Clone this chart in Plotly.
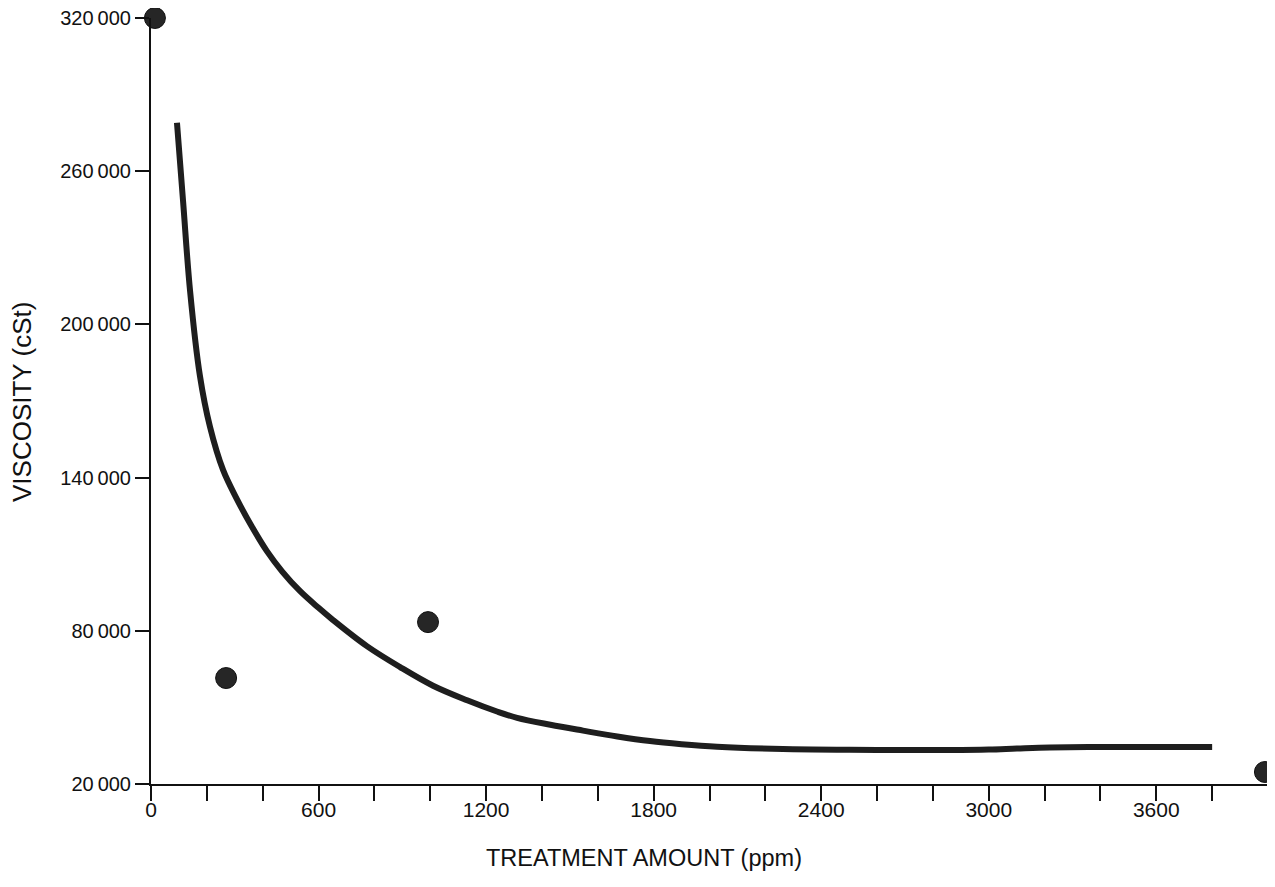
import plotly.graph_objects as go

# Measured data points (treatment ppm, viscosity cSt)
point_ppm = [14, 269, 992, 3989]
point_visc = [320000, 61500, 83400, 24700]

# Fitted curve
curve_ppm = [93, 115, 140, 175, 211, 258, 308, 360, 415, 470, 534, 600, 652,
             773, 892, 1010, 1132, 1239, 1311, 1430, 1547, 1670, 1787, 1900,
             2027, 2263, 2500, 2671, 2861, 3000, 3101, 3219, 3400, 3600, 3800]
curve_visc = [279000, 248000, 213000, 180000, 160000, 143000, 131500, 121000,
              111200, 103200, 95500, 89000, 84200, 74000, 65800, 58500, 52800,
              48400, 45900, 43200, 40900, 38600, 36800, 35600, 34600, 33700,
              33400, 33300, 33300, 33500, 33900, 34300, 34500, 34500, 34500]

x_tick_vals = list(range(0, 4001, 200))
x_tick_text = [str(v) if (v % 600 == 0 and v <= 3600) else "" for v in x_tick_vals]
y_tick_vals = [20000, 80000, 140000, 200000, 260000, 320000]
y_tick_text = ["20\u2009000", "80\u2009000", "140\u2009000", "200\u2009000",
               "260\u2009000", "320\u2009000"]

fig = go.Figure()
fig.add_trace(go.Scatter(
    x=curve_ppm, y=curve_visc, mode="lines",
    line=dict(color="#1e1e1e", width=6, shape="spline", smoothing=1.0),
    cliponaxis=False, showlegend=False, hoverinfo="skip"))
fig.add_trace(go.Scatter(
    x=point_ppm, y=point_visc, mode="markers",
    marker=dict(size=21, color="#262626", line=dict(color="#111111", width=1)),
    cliponaxis=False, showlegend=False))

font_family = "Liberation Sans, Arial, Helvetica, sans-serif"
fig.update_layout(
    width=1275, height=887,
    margin=dict(l=143, r=15, t=10, b=111),
    plot_bgcolor="white", paper_bgcolor="white",
    font=dict(family=font_family, color="#111111", size=20),
    xaxis=dict(
        range=[0, 4000], tickvals=x_tick_vals, ticktext=x_tick_text,
        ticks="outside", ticklen=15, tickwidth=2, tickcolor="#111111",
        showline=True, linecolor="#111111", linewidth=2,
        showgrid=False, zeroline=False, automargin=False,
        tickfont=dict(size=21), ticklabelstandoff=-9,
        ticklabeloverflow="allow",
    ),
    yaxis=dict(
        range=[20000, 320000], tickvals=y_tick_vals, ticktext=y_tick_text,
        ticks="outside", ticklen=14, tickwidth=2, tickcolor="#111111",
        showline=True, linecolor="#111111", linewidth=2,
        showgrid=False, zeroline=False, automargin=False,
        tickfont=dict(size=20), ticklabeloverflow="allow",
    ),
    annotations=[
        dict(text="TREATMENT AMOUNT (ppm)", xref="paper", yref="paper",
             x=0.4414, y=-0.0966, xanchor="center", yanchor="middle",
             showarrow=False, font=dict(size=23.5)),
        dict(text="VISCOSITY (cSt)", xref="paper", yref="paper",
             x=-0.1155, y=0.4987, xanchor="center", yanchor="middle",
             textangle=-90, showarrow=False, font=dict(size=26)),
    ],
)

fig.write_html("out.html")
